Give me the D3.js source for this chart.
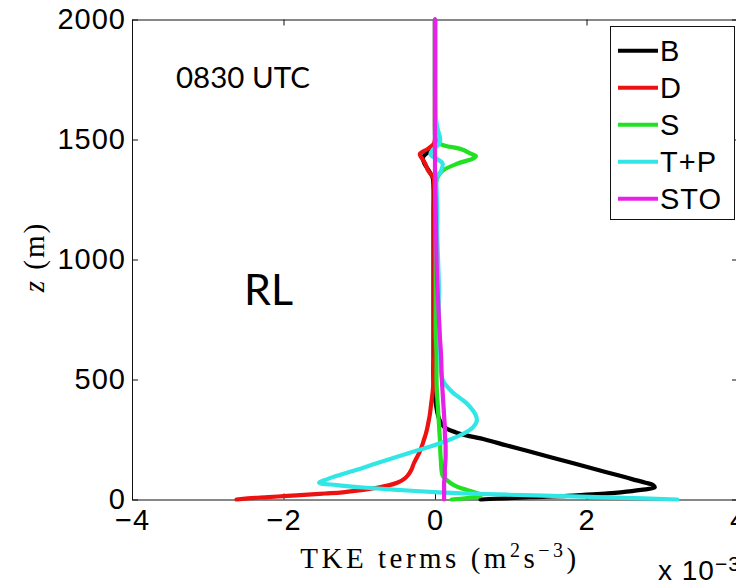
<!DOCTYPE html>
<html>
<head>
<meta charset="utf-8">
<script src="https://cdn.jsdelivr.net/npm/d3@7"></script>
<style>
  html, body { margin: 0; padding: 0; background: #fff; overflow: hidden; }
  svg { display: block; }
</style>
</head>
<body>
<svg id="chart" width="736" height="581"></svg>
<script>
// Height levels (m) shared by every TKE budget profile
const heights = [0, 5, 10, 15, 20, 25, 30, 40, 50, 60, 70, 85, 100, 125, 150, 175, 200, 225, 250, 275,
  300, 325, 350, 400, 450, 500, 600, 700, 800, 900, 1000, 1100, 1200, 1300, 1340, 1370, 1400, 1420,
  1430, 1440, 1460, 1480, 1500, 1550, 1600, 1700, 1800, 1900, 2000];

// TKE budget terms, units of 1e-3 m^2 s^-3
const buoyancy = [0.6, 0.9, 1.3, 1.75, 2.0, 2.25, 2.45, 2.72, 2.9, 2.88, 2.78, 2.6, 2.43, 2.13, 1.84, 1.54,
  1.25, 0.95, 0.66, 0.32, 0.13, 0.07, 0.04, 0.01, -0.01, -0.02, -0.02, -0.02, -0.02, -0.02, -0.02, -0.02,
  -0.02, -0.02, -0.03, -0.08, -0.14, -0.16, -0.15, -0.12, -0.04, 0.0, 0.0, 0.0, 0.0, 0.0, 0.0, 0.0, 0.0];
const dissipation = [-2.62, -2.47, -2.2, -1.95, -1.68, -1.45, -1.22, -0.95, -0.75, -0.6, -0.5, -0.41, -0.36,
  -0.31, -0.28, -0.24, -0.2, -0.17, -0.145, -0.12, -0.1, -0.085, -0.07, -0.05, -0.03, -0.02, -0.01, -0.01,
  -0.01, -0.01, -0.01, -0.01, -0.01, -0.01, -0.02, -0.09, -0.13, -0.17, -0.19, -0.2, -0.1, -0.02, 0.0,
  0.0, 0.0, 0.0, 0.0, 0.0, 0.0];
const shear = [0.22, 0.4, 0.52, 0.6, 0.6, 0.57, 0.52, 0.42, 0.32, 0.25, 0.2, 0.14, 0.1, 0.085, 0.08, 0.075,
  0.07, 0.068, 0.065, 0.06, 0.055, 0.05, 0.045, 0.035, 0.025, 0.02, 0.02, 0.01, 0.01, 0.01, 0.01, 0.01,
  0.01, 0.01, 0.03, 0.1, 0.3, 0.5, 0.54, 0.48, 0.34, 0.08, 0.01, 0.0, 0.0, 0.0, 0.0, 0.0, 0.0];
const transport = [3.2, 2.75, 2.14, 1.55, 0.95, 0.4, 0.05, -0.5, -0.95, -1.3, -1.53, -1.42, -1.28, -1.02,
  -0.78, -0.53, -0.28, -0.02, 0.2, 0.38, 0.5, 0.55, 0.54, 0.42, 0.22, 0.1, 0.07, 0.06, 0.05, 0.05, 0.04,
  0.03, 0.03, 0.02, 0.02, 0.08, 0.1, 0.02, -0.04, -0.06, -0.02, 0.05, 0.07, 0.03, 0.01, 0.0, 0.0, 0.0, 0.0];
const storage = [0.12, 0.12, 0.12, 0.12, 0.12, 0.12, 0.12, 0.12, 0.12, 0.12, 0.12, 0.125, 0.13, 0.13, 0.135,
  0.14, 0.14, 0.14, 0.135, 0.13, 0.13, 0.125, 0.12, 0.11, 0.1, 0.09, 0.08, 0.06, 0.045, 0.03, 0.02, 0.015,
  0.01, 0.005, 0.005, 0.0, 0.0, 0.0, 0.0, 0.0, 0.0, 0.0, 0.0, 0.0, 0.0, 0.0, 0.0, 0.0, 0.0];

const seriesNames = ["B", "D", "S", "T+P", "STO"];
const seriesValues = [buoyancy, dissipation, shear, transport, storage];
const seriesColors = ["#000000", "#ee1111", "#22e022", "#33e6e6", "#e622e6"];

const xTicks = [-4, -2, 0, 2, 4];
const yTicks = [0, 500, 1000, 1500, 2000];

const svg = d3.select("#chart");
const plotL = 132, plotR = 738, plotT = 19.5, plotB = 499.5;
const x = d3.scaleLinear().domain([-4, 4]).range([plotL, plotR]);
const y = d3.scaleLinear().domain([0, 2000]).range([plotB, plotT]);

const fmt = d => (d < 0 ? "\u2212" + Math.abs(d) : String(d));
const tickFont = "'Liberation Sans', Arial, Helvetica, sans-serif";

// Axes: ticks point inward on all four sides, labels only bottom/left
function styleAxis(g) {
  g.selectAll(".domain").attr("stroke", "#111").attr("stroke-width", 1);
  g.selectAll(".tick line").attr("stroke", "#111").attr("stroke-width", 1);
  g.selectAll(".tick text").attr("fill", "#000").attr("font-family", tickFont)
    .attr("font-size", 29).attr("letter-spacing", 1);
}
svg.append("g").attr("transform", `translate(0,${plotB})`)
  .call(d3.axisBottom(x).tickValues(xTicks).tickFormat(fmt).tickSizeInner(-6).tickSizeOuter(0).tickPadding(10))
  .call(styleAxis);
svg.append("g").attr("transform", `translate(0,${plotT})`)
  .call(d3.axisTop(x).tickValues(xTicks).tickFormat("").tickSizeInner(-6).tickSizeOuter(0))
  .call(styleAxis);
svg.append("g").attr("transform", `translate(${plotL},0)`)
  .call(d3.axisLeft(y).tickValues(yTicks).tickFormat(d3.format("d")).tickSizeInner(-6).tickSizeOuter(0).tickPadding(6))
  .call(styleAxis);
svg.append("g").attr("transform", `translate(${plotR},0)`)
  .call(d3.axisRight(y).tickValues(yTicks).tickFormat("").tickSizeInner(-6).tickSizeOuter(0))
  .call(styleAxis);

// Profiles
const line = d3.line()
  .x(d => x(d.v))
  .y(d => y(d.z))
  .curve(d3.curveCatmullRom.alpha(0.5));

seriesValues.forEach((vals, i) => {
  const pts = heights.map((z, k) => ({ z, v: vals[k] }));
  svg.append("path")
    .datum(pts)
    .attr("d", line)
    .attr("fill", "none")
    .attr("stroke", seriesColors[i])
    .attr("stroke-width", 4.2)
    .attr("stroke-linejoin", "round")
    .attr("stroke-linecap", "round");
});

// Legend
const lg = svg.append("g");
lg.append("rect").attr("x", 610.5).attr("y", 26.5).attr("width", 124).attr("height", 193)
  .attr("fill", "#fff").attr("stroke", "#111").attr("stroke-width", 1);
seriesNames.forEach((name, i) => {
  const ly = 50.7 + 37 * i;
  lg.append("line").attr("x1", 618).attr("x2", 658).attr("y1", ly).attr("y2", ly)
    .attr("stroke", seriesColors[i]).attr("stroke-width", 4);
  lg.append("text").attr("x", 660).attr("y", ly + 9.8).text(name)
    .attr("font-family", tickFont).attr("font-size", 29).attr("letter-spacing", 1).attr("fill", "#000");
});

// Annotations
svg.append("text").attr("x", 176).attr("y", 88).text("0830 UTC")
  .attr("font-family", "Lato, 'Open Sans', sans-serif").attr("font-size", 29.5).attr("fill", "#000");
svg.append("text").attr("x", 244).attr("y", 305).text("RL")
  .attr("font-family", "Lato, 'Open Sans', sans-serif").attr("font-size", 43).attr("fill", "#000");

// Axis titles
const serif = "'Liberation Serif', 'Times New Roman', serif";
const xl = svg.append("text").attr("x", 440).attr("y", 568).attr("text-anchor", "middle")
  .attr("font-family", serif).attr("font-size", 29).attr("letter-spacing", 3.5).attr("fill", "#000");
xl.append("tspan").text("TKE terms (m");
xl.append("tspan").attr("dy", -11).attr("font-size", 20).text("2");
xl.append("tspan").attr("dy", 11).text("s");
xl.append("tspan").attr("dy", -11).attr("font-size", 20).text("\u22123");
xl.append("tspan").attr("dy", 11).text(")");

const yl = svg.append("text").attr("transform", "translate(44,257) rotate(-90)")
  .attr("text-anchor", "middle").attr("font-family", serif).attr("font-size", 29)
  .attr("letter-spacing", 2).attr("fill", "#000");
yl.append("tspan").attr("font-style", "italic").text("z");
yl.append("tspan").text(" (m)");

const ex = svg.append("text").attr("x", 658).attr("y", 580)
  .attr("font-family", tickFont).attr("font-size", 28).attr("letter-spacing", 1).attr("fill", "#000");
ex.append("tspan").text("x 10");
ex.append("tspan").attr("dy", -9).attr("font-size", 21).text("\u22123");
</script>
</body>
</html>
